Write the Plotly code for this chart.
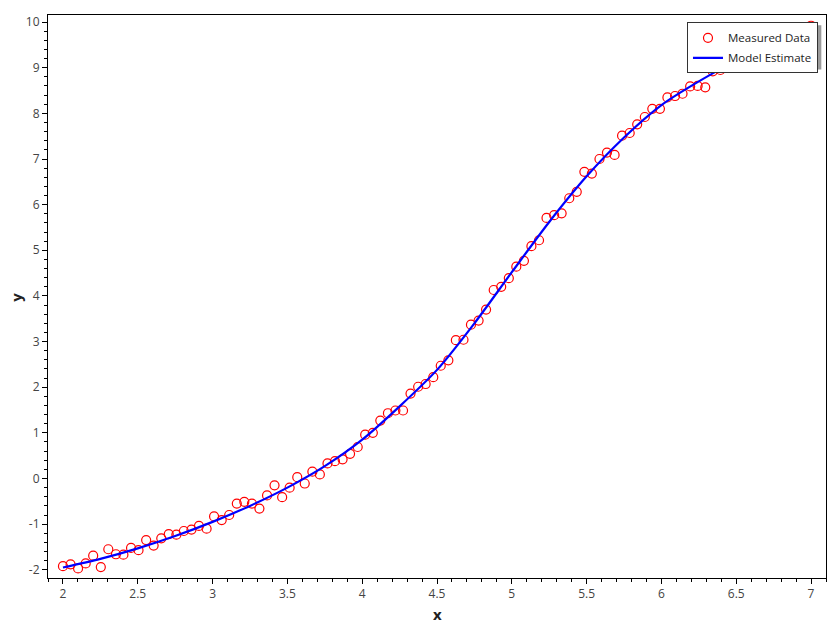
import plotly.graph_objects as go

# Measured data (x grid 2..7, 100 samples)
x_measured = [
    2.000, 2.051, 2.101, 2.152, 2.202, 2.253, 2.303, 2.354, 2.404, 2.455,
    2.505, 2.556, 2.606, 2.657, 2.707, 2.758, 2.808, 2.859, 2.909, 2.960,
    3.010, 3.061, 3.111, 3.162, 3.212, 3.263, 3.313, 3.364, 3.414, 3.465,
    3.515, 3.566, 3.616, 3.667, 3.717, 3.768, 3.818, 3.869, 3.919, 3.970,
    4.020, 4.071, 4.121, 4.172, 4.222, 4.273, 4.323, 4.374, 4.424, 4.475,
    4.525, 4.576, 4.626, 4.677, 4.727, 4.778, 4.828, 4.879, 4.929, 4.980,
    5.030, 5.081, 5.131, 5.182, 5.232, 5.283, 5.333, 5.384, 5.434, 5.485,
    5.535, 5.586, 5.636, 5.687, 5.737, 5.788, 5.838, 5.889, 5.939, 5.990,
    6.040, 6.091, 6.141, 6.192, 6.242, 6.293, 6.343, 6.394, 6.444, 6.495,
    6.545, 6.596, 6.646, 6.697, 6.747, 6.798, 6.848, 6.899, 6.949, 7.000,
]
y_measured = [
    -1.92, -1.88, -1.97, -1.86, -1.69, -1.94, -1.55, -1.66, -1.67, -1.52,
    -1.57, -1.35, -1.47, -1.31, -1.22, -1.23, -1.15, -1.12, -1.04, -1.10,
    -0.83, -0.91, -0.80, -0.55, -0.51, -0.55, -0.66, -0.37, -0.15, -0.41,
    -0.20, 0.03, -0.11, 0.15, 0.09, 0.33, 0.38, 0.42, 0.54, 0.69,
    0.96, 1.00, 1.27, 1.43, 1.49, 1.49, 1.86, 2.01, 2.07, 2.22,
    2.47, 2.59, 3.03, 3.04, 3.37, 3.46, 3.70, 4.13, 4.20, 4.39,
    4.64, 4.77, 5.09, 5.22, 5.71, 5.77, 5.81, 6.14, 6.28, 6.72,
    6.68, 7.00, 7.14, 7.09, 7.51, 7.57, 7.76, 7.92, 8.10, 8.10,
    8.35, 8.38, 8.43, 8.59, 8.60, 8.57, 8.92, 8.95, 9.05, 9.12,
    9.22, 9.28, 9.36, 9.42, 9.50, 9.58, 9.66, 9.74, 9.82, 9.92,
]

# Model estimate
x_model = [2.0, 2.25, 2.5, 2.75, 3.0, 3.25, 3.5, 3.75, 4.0, 4.25, 4.5,
           4.75, 5.0, 5.25, 5.5, 5.75, 6.0, 6.25, 6.5, 6.75, 7.0]
y_model = [-1.95, -1.76, -1.53, -1.26, -0.95, -0.60, -0.20, 0.27, 0.85, 1.58, 2.38,
           3.40, 4.52, 5.62, 6.62, 7.47, 8.18, 8.70, 9.15, 9.50, 9.85]

x_tick_vals = [2, 2.5, 3, 3.5, 4, 4.5, 5, 5.5, 6, 6.5, 7]
x_tick_text = ["2", "2.5", "3", "3.5", "4", "4.5", "5", "5.5", "6", "6.5", "7"]
y_tick_vals = [-2, -1, 0, 1, 2, 3, 4, 5, 6, 7, 8, 9, 10]
y_tick_text = ["-2", "-1", "0", "1", "2", "3", "4", "5", "6", "7", "8", "9", "10"]

FONT = "Open Sans"

fig = go.Figure()
fig.add_trace(go.Scatter(
    x=x_measured, y=y_measured, mode="markers", name="Measured Data",
    legendgroup="a",
    marker=dict(symbol="circle-open", size=9, color="#FF0000", line=dict(width=1.2, color="#FF0000")),
))
fig.add_trace(go.Scatter(
    x=x_model, y=y_model, mode="lines", name="Model Estimate",
    legendgroup="b",
    line=dict(color="#0000FF", width=2.2, shape="spline", smoothing=0.8),
))

axis_common = dict(
    showline=True, linecolor="black", linewidth=1, mirror=True,
    showgrid=False, zeroline=False, automargin=False,
    ticks="outside", ticklen=5, tickwidth=1, tickcolor="black",
    tickfont=dict(family=FONT, size=12, color="#444444"),
)
fig.update_xaxes(
    range=[1.9, 7.1], tickvals=x_tick_vals, ticktext=x_tick_text,
    minor=dict(dtick=0.1, ticks="outside", ticklen=3, tickcolor="black"),
    **axis_common,
)
fig.update_yaxes(
    range=[-2.18, 10.155], tickvals=y_tick_vals, ticktext=y_tick_text,
    minor=dict(dtick=0.2, ticks="outside", ticklen=3, tickcolor="black"),
    **axis_common,
)

# axis titles
fig.add_annotation(text="<b>x</b>", xref="paper", yref="paper", x=0.5, y=-0.064,
                   xanchor="center", yanchor="middle", showarrow=False,
                   font=dict(family=FONT, size=15, color="#222222"))
fig.add_annotation(text="<b>y</b>", xref="paper", yref="paper", x=-0.041, y=0.498,
                   xanchor="center", yanchor="middle", showarrow=False, textangle=-90,
                   font=dict(family=FONT, size=15, color="#222222"))

# legend shadow
fig.add_shape(type="rect", xref="paper", yref="paper",
              x0=0.8315, x1=0.9940, y0=0.9030, y1=0.9820,
              fillcolor="#9a9a9a", line=dict(width=0), layer="above")

# page body adds an 8px offset; compensate so the plot area lands at 48..826 x 15..578
fig.update_layout(
    width=832, height=622,
    margin=dict(l=40, r=14, t=7, b=52),
    paper_bgcolor="white", plot_bgcolor="white",
    showlegend=True,
    legend=dict(
        x=0.9897, y=0.987, xanchor="right", yanchor="top",
        bgcolor="white", bordercolor="#333333", borderwidth=1,
        font=dict(family=FONT, size=11.5, color="#222222"),
        itemwidth=30, traceorder="grouped", tracegroupgap=1,
    ),
)

fig.write_html("out.html")
